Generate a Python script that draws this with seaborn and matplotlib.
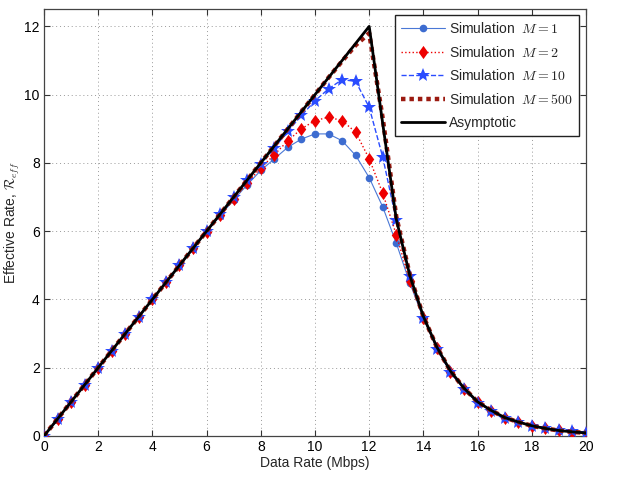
import numpy as np
import pandas as pd
import matplotlib
matplotlib.use("Agg")
import matplotlib.pyplot as plt
import seaborn as sns

# ---------------- data ----------------
rate = [0.0, 0.5, 1.0, 1.5, 2.0, 2.5, 3.0, 3.5, 4.0, 4.5, 5.0, 5.5, 6.0, 6.5, 7.0, 7.5,
        8.0, 8.5, 9.0, 9.5, 10.0, 10.5, 11.0, 11.5, 12.0, 12.5, 13.0, 13.5, 14.0, 14.5,
        15.0, 15.5, 16.0, 16.5, 17.0, 17.5, 18.0, 18.5, 19.0, 19.5, 20.0]

sim_m1 = [0.0, 0.5, 1.0, 1.5, 2.0, 2.5, 3.0, 3.5, 4.0, 4.5, 5.0, 5.49, 5.98, 6.45, 6.92, 7.36,
          7.78, 8.12, 8.46, 8.70, 8.85, 8.85, 8.65, 8.22, 7.57, 6.71, 5.65, 4.48, 3.45, 2.56,
          1.86, 1.37, 0.98, 0.73, 0.52, 0.41, 0.29, 0.22, 0.16, 0.13, 0.08]

sim_m2 = [0.0, 0.5, 1.0, 1.5, 2.0, 2.5, 3.0, 3.5, 4.0, 4.5, 5.0, 5.5, 5.99, 6.47, 6.95, 7.42,
          7.85, 8.24, 8.65, 9.00, 9.24, 9.34, 9.24, 8.90, 8.12, 7.11, 5.90, 4.53, 3.47, 2.57,
          1.87, 1.38, 0.99, 0.74, 0.53, 0.42, 0.30, 0.22, 0.17, 0.13, 0.08]

sim_m10 = [0.0, 0.5, 1.0, 1.5, 2.0, 2.5, 3.0, 3.5, 4.0, 4.5, 5.0, 5.5, 6.0, 6.5, 7.0, 7.49,
           7.97, 8.44, 8.93, 9.39, 9.82, 10.17, 10.44, 10.39, 9.63, 8.17, 6.32, 4.68, 3.47, 2.56,
           1.86, 1.37, 0.98, 0.74, 0.52, 0.42, 0.29, 0.22, 0.17, 0.14, 0.08]

sim_m500 = [0.0, 0.5, 1.0, 1.5, 2.0, 2.5, 3.0, 3.5, 4.0, 4.5, 5.0, 5.5, 6.0, 6.5, 7.0, 7.5,
            8.0, 8.5, 9.0, 9.5, 10.0, 10.5, 10.98, 11.45, 11.80, 9.30, 6.42, 4.72, 3.50, 2.60,
            1.90, 1.40, 1.00, 0.75, 0.54, 0.41, 0.30, 0.22, 0.16, 0.12, 0.09]

asym_rate = [0.0, 12.0, 12.5, 13.0, 13.5, 14.0, 14.5, 15.0, 15.5, 16.0, 16.5, 17.0,
             17.5, 18.0, 18.5, 19.0, 19.5, 20.0]
asym_val = [0.0, 12.0, 9.15, 6.35, 4.70, 3.50, 2.60, 1.90, 1.40, 1.00, 0.75, 0.54,
            0.41, 0.30, 0.22, 0.16, 0.12, 0.09]

labels = [r"Simulation  $M = 1$", r"Simulation  $M = 2$", r"Simulation  $M = 10$",
          r"Simulation  $M = 500$", "Asymptotic"]
xticks = [0, 2, 4, 6, 8, 10, 12, 14, 16, 18, 20]
yticks = [0, 2, 4, 6, 8, 10, 12]

# ---------------- style ----------------
sns.set_style("ticks")
plt.rcParams["font.family"] = ["Liberation Sans", "DejaVu Sans"]
plt.rcParams["mathtext.fontset"] = "cm"
plt.rcParams["font.size"] = 10

fig = plt.figure(figsize=(6.23, 4.78), dpi=100)
ax = fig.add_axes([0.0706, 0.0879, 0.870, 0.8926])

common = dict(ax=ax, estimator=None, sort=False)
diamond = [(0, 1), (0.72, 0), (0, -1), (-0.72, 0), (0, 1)]

sns.lineplot(x=rate, y=sim_m1, color="#4a78d6", lw=0.8, ls="-", marker="o",
             markersize=5.5, markeredgewidth=0, markerfacecolor="#3d6cd0",
             label=labels[0], zorder=3, **common)
sns.lineplot(x=rate, y=sim_m2, color="#ee0000", lw=1.0, ls=":", marker=diamond,
             markersize=9.5, markeredgewidth=0, label=labels[1], zorder=4, **common)
sns.lineplot(x=rate, y=sim_m10, color="#2a4cff", lw=1.0, ls="--", marker="*",
             markersize=10.5, markeredgewidth=0, label=labels[2], zorder=5, **common)
sns.lineplot(x=rate, y=sim_m500, color="#9b1a10", lw=3.2, ls=(0, (1.0, 0.9)),
             label=labels[3], zorder=6, **common)
sns.lineplot(x=asym_rate, y=asym_val, color="black", lw=2.0, ls="-",
             label=labels[4], zorder=7, **common)

ax.set_xlim(0, 20)
ax.set_ylim(0, 12.5)
ax.set_xticks(xticks)
ax.set_yticks(yticks)
ax.set_xticklabels([str(t) for t in xticks])
ax.set_yticklabels([str(t) for t in yticks])
ax.tick_params(direction="in", length=4, width=0.8, top=True, right=True,
               labelsize=10, colors="#333333", labelcolor="black", pad=3)
for s in ax.spines.values():
    s.set_visible(True)
    s.set_color("#444444")
    s.set_linewidth(0.9)
ax.grid(True, ls=(0, (1, 3)), color="#999999", lw=0.7)
ax.set_axisbelow(True)

ax.set_xlabel("Data Rate (Mbps)", fontsize=10, labelpad=1)
ax.set_ylabel(r"Effective Rate, $\mathcal{R}_{eff}$", fontsize=10, labelpad=2)

leg = ax.legend(loc="upper right", bbox_to_anchor=(0.988, 0.987), fontsize=10,
                frameon=True, fancybox=False, framealpha=1, edgecolor="#222222",
                handlelength=3.2, handletextpad=0.3, labelspacing=0.62,
                borderpad=0.45, borderaxespad=0)
leg.get_frame().set_linewidth(1.0)

fig.savefig("out.png", dpi=100)
